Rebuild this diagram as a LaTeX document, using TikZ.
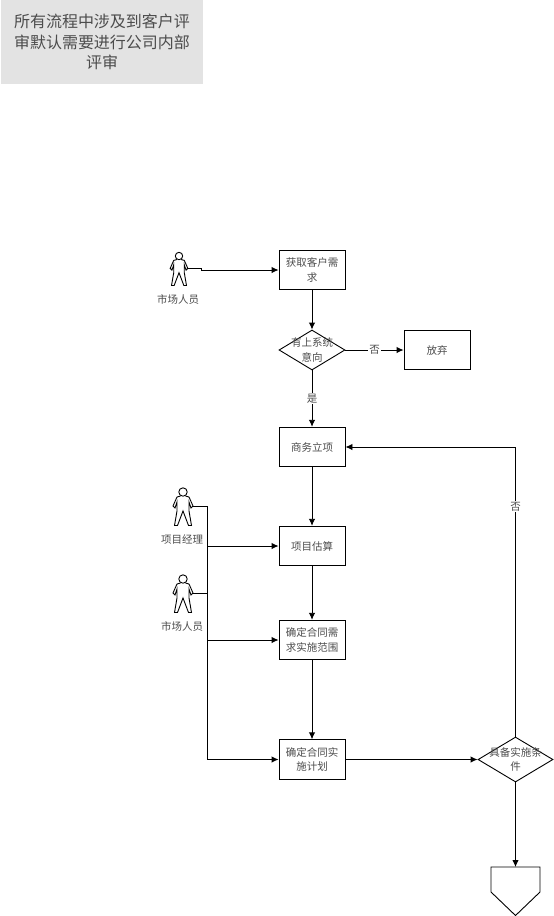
\documentclass[tikz,border=0pt]{standalone}
\usepackage{fontspec}
\setmainfont{Noto Sans CJK SC}
\usetikzlibrary{shapes.geometric, arrows.meta}

\begin{document}
\begin{tikzpicture}[x=1pt, y=-1pt, >={Latex[length=7pt, width=6.5pt]}, line width=0.9pt, font=\fontsize{10.5}{14.5}\selectfont,
    stepbox/.style={draw, rectangle, minimum width=66pt, minimum height=39.5pt, inner sep=0pt, align=center, text=black!70},
    decision/.style={draw, diamond, inner sep=0pt, text=black!70},
    actorname/.style={text=black!70, inner sep=0pt},
    flowtag/.style={fill=white, text=black!70, inner sep=1pt},
    actor/.pic={
        \draw (0,0) circle (4.2);
        \draw (-2.5,4) -- (-6,5) -- (-10,14) -- (-8,16) -- (-6,10) -- (-6,19) -- (-8.5,33.5) -- (-5.5,33.5) -- (0,19)
              -- (5.5,33.5) -- (8.5,33.5) -- (6,19) -- (6,10) -- (8,16) -- (10,14) -- (6,5) -- (2.5,4);
        \coordinate (-hand) at (10,14);
    }]

    \useasboundingbox (0,0) rectangle (554,916);

    % 1. Poznámka vlevo nahoře
    \node[fill=black!11, minimum width=202pt, minimum height=83.5pt, inner sep=0pt, align=center, text=black!70,
          font=\fontsize{16}{20.5}\selectfont] (note) at (102,42) {所有流程中涉及到客户评\\审默认需要进行公司内部\\评审};

    % 2. Kroky procesu
    \foreach \name/\y/\lab in {getreq/270/获取客户需\\求, setup/447/商务立项, estimate/546/项目估算, scope/640/确定合同需\\求实施范围, plan/759.5/确定合同实\\施计划} {
        \node[stepbox] (\name) at (312,\y) {\lab};
    }
    \node[stepbox] (giveup) at (437,350) {放弃};

    % 3. Rozhodování
    \node[decision, minimum width=66pt, minimum height=40pt, label={[align=center, text=black!70]center:有上系统\\意向}] (intent) at (312,350) {};
    \node[decision, minimum width=75pt, minimum height=45pt, label={[align=center, text=black!70]center:具备实施条\\件}] (ready) at (515.5,759.5) {};

    % 4. Značka pokračování na další stránce
    \coordinate (pagetop) at (515.5,867);
    \draw (491,867) -- (540,867) -- (540,892) -- (515.5,915.5) -- (491,892) -- cycle;

    % 5. Role
    \pic[scale=0.88] (saleone) at (179,256) {actor};
    \pic (manager) at (183,492) {actor};
    \pic (saletwo) at (183,579) {actor};
    \node[actorname] (saleonename) at (178,299) {市场人员};
    \node[actorname] (managername) at (182,539) {项目经理};
    \node[actorname] (saletwoname) at (182,626) {市场人员};

    % 6. Spojnice
    \draw[->] (saleone-hand) -- ++(14,0) |- (getreq);
    \draw[->] (getreq) -- (intent);
    \draw[->] (intent) -- node[flowtag] (notag) {否} (giveup);
    \draw[->] (intent) -- node[flowtag, pos=0.5] (yestag) {是} (setup);
    \foreach \from/\to in {setup/estimate, estimate/scope, scope/plan, plan/ready} {
        \draw[->] (\from) -- (\to);
    }
    \draw[->] (ready) -- (pagetop);
    \draw[->] (ready) |- node[flowtag, pos=0.397] (backtag) {否} (setup);

    % 7. Sběrnice rolí
    \coordinate (bus) at (207,506);
    \draw (manager-hand) -- (bus);
    \draw (saletwo-hand) -- (saletwo-hand -| bus);
    \foreach \to in {estimate, scope, plan} {
        \draw[->] (bus) |- (\to);
    }

\end{tikzpicture}
\end{document}
